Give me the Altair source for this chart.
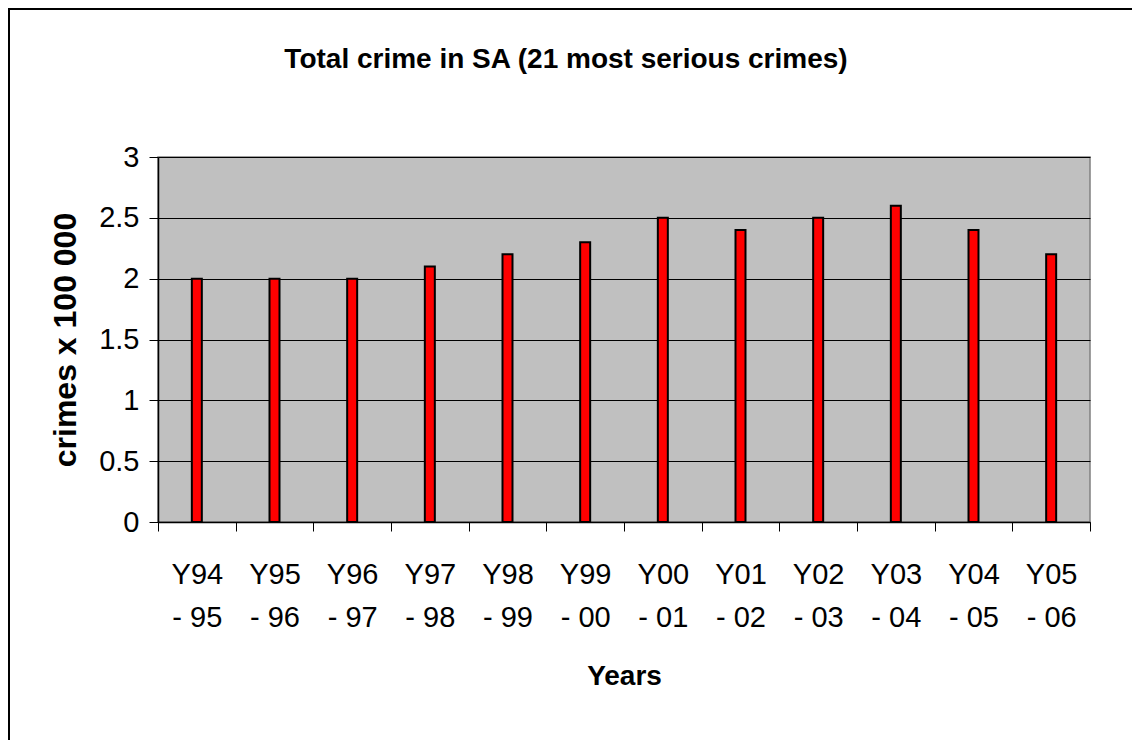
import altair as alt
import pandas as pd

# Reporting years (two-line labels split on "|") and totals in units of 100 000 crimes
years = ["Y94|- 95", "Y95|- 96", "Y96|- 97", "Y97|- 98", "Y98|- 99", "Y99|- 00",
         "Y00|- 01", "Y01|- 02", "Y02|- 03", "Y03|- 04", "Y04|- 05", "Y05|- 06"]
crimes = [2.0, 2.0, 2.0, 2.1, 2.2, 2.3, 2.5, 2.4, 2.5, 2.6, 2.4, 2.2]
chart_title = "Total crime in SA (21 most serious crimes)"

df = pd.DataFrame({"year": years, "crimes": crimes})

FONT = "Liberation Sans"
W, H = 932, 365
LEFT, TOP = 158, 157

bars = alt.Chart(df).mark_bar(
    size=10, color="#FF0000", stroke="black", strokeWidth=2
).encode(
    x=alt.X("year:N", sort=years, title="Years",
            scale=alt.Scale(paddingInner=0, paddingOuter=0),
            axis=alt.Axis(labelAngle=0,
                          labelExpr="datum.value ? split(datum.value, '|') : ''",
                          labelLineHeight=43, labelFontSize=29, labelPadding=29,
                          labelFont=FONT, labelColor="black", labelBaseline="top",
                          tickBand="extent", tickSize=9, tickColor="black",
                          domainColor="black", domainWidth=1.5,
                          titleFont=FONT, titleFontSize=28, titleFontWeight="bold",
                          titlePadding=30, titleColor="black")),
    y=alt.Y("crimes:Q", title="crimes x 100 000",
            scale=alt.Scale(domain=[0, 3], nice=False),
            axis=alt.Axis(values=[0, 0.5, 1, 1.5, 2, 2.5, 3], format="~g",
                          labelFontSize=29, labelFont=FONT, labelColor="black",
                          labelPadding=10, tickSize=9, tickColor="black",
                          domainColor="black", domainWidth=1.5,
                          grid=True, gridColor="black", gridWidth=1,
                          titleFont=FONT, titleFontSize=32, titleFontWeight="bold",
                          titlePadding=16, titleColor="black")),
)

# Outer frame around the whole chart
frame = alt.Chart(df).mark_rect(
    fill="transparent", fillOpacity=0, stroke="black", strokeWidth=1.5, clip=False
).encode(
    x=alt.value(9 - LEFT), x2=alt.value(1140 - LEFT),
    y=alt.value(9 - TOP), y2=alt.value(750 - TOP),
)

# Chart heading, centred on the full frame width
heading = alt.Chart(pd.DataFrame({"t": [chart_title]})).mark_text(
    font=FONT, fontSize=28, fontWeight="bold", color="black",
    align="center", baseline="middle", clip=False
).encode(
    text="t:N",
    x=alt.value(566 - LEFT), y=alt.value(60 - TOP),
)

chart = alt.layer(frame, bars, heading).properties(
    width=W, height=H,
    autosize=alt.AutoSizeParams(type="none"),
    padding={"left": LEFT, "top": TOP, "right": 1132 - LEFT - W, "bottom": 740 - TOP - H},
).configure(
    background="white"
).configure_view(
    fill="#C0C0C0", stroke="#808080", strokeWidth=1.5
)

chart.save("out.html", embed_options={"renderer": "svg", "actions": False})
